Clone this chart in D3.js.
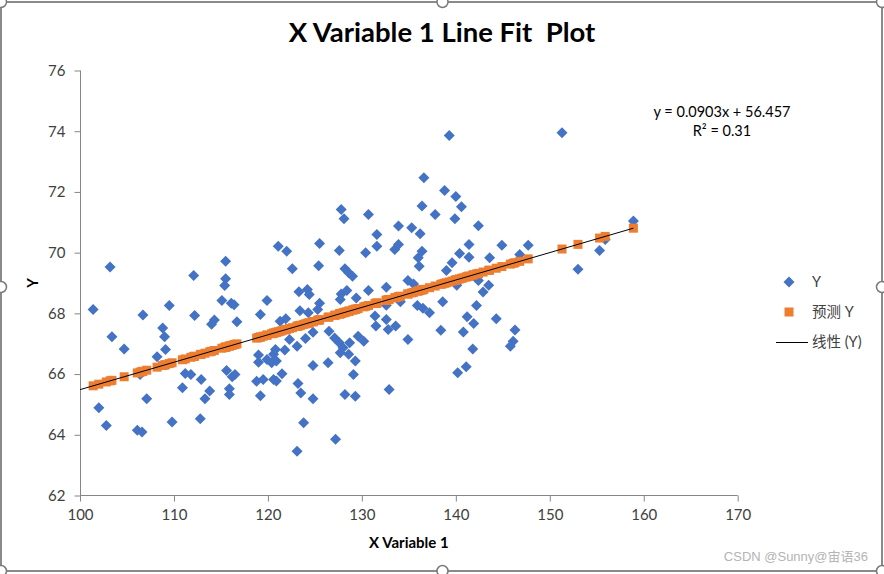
<!DOCTYPE html>
<html>
<head>
<meta charset="utf-8">
<script src="https://cdn.jsdelivr.net/npm/d3@7"></script>
<style>
html,body{margin:0;padding:0;background:#fff;}
svg{display:block;}
</style>
</head>
<body>
<svg id="chart" width="884" height="574"></svg>
<script>
// ---- data ----
const xValues = [
103.2,115.5,112.1,115.5,115.4,101.4,106.7,109.5,115.1,116.1,116.4,112.2,114.3,114.0,116.7,119.2,108.8,109.0,103.4,104.7,
109.1,108.2,106.4,111.2,111.8,110.9,112.9,113.8,113.3,115.6,116.2,116.5,115.9,115.9,119.0,119.0,118.8,119.2,107.1,102.0,
102.8,106.1,106.6,109.8,112.8,
127.8,128.1,130.7,133.9,121.1,122.0,125.5,127.6,131.6,131.6,130.4,133.5,122.6,125.4,128.2,128.6,129.0,123.3,124.2,124.4,
119.9,123.4,124.3,125.5,125.3,127.8,128.4,127.7,129.4,130.7,132.6,121.3,121.9,124.8,122.3,123.1,124.0,121.8,126.5,127.1,
127.6,128.0,127.7,128.6,129.3,128.7,129.6,130.2,131.4,131.5,132.6,132.8,133.6,119.9,120.6,120.8,120.4,120.9,119.5,120.6,
121.5,120.9,123.2,123.5,124.8,126.4,124.8,129.1,128.2,129.3,132.9,123.8,127.2,123.1,
139.3,136.6,138.8,140.0,140.6,136.4,137.8,139.9,142.4,135.3,136.2,133.9,136.4,136.0,136.1,141.4,140.4,141.4,144.9,143.6,
147.7,139.6,139.0,134.9,135.5,142.4,140.1,143.5,142.9,134.1,132.6,138.6,135.9,136.5,137.2,142.2,134.9,138.4,141.2,141.9,
140.8,144.3,146.3,146.1,145.8,141.8,141.1,140.2,
151.3,158.9,155.9,155.3,153.0,146.8
];
const yValues = [
69.53,69.72,69.25,69.14,68.92,68.13,67.95,68.26,68.42,68.33,68.28,67.93,67.78,67.64,67.72,67.96,67.52,67.23,67.23,66.83,
66.81,66.57,65.99,66.02,65.99,65.55,65.82,65.44,65.19,66.12,65.91,65.99,65.52,65.33,66.63,66.39,65.76,65.29,65.19,64.89,
64.31,64.15,64.09,64.42,64.53,
71.42,71.12,71.26,70.88,70.21,70.05,70.30,70.07,70.60,70.21,70.00,70.10,69.47,69.57,69.47,69.34,69.22,68.71,68.79,68.62,
68.42,68.09,68.02,68.33,68.13,68.64,68.75,68.46,68.51,68.75,68.86,67.74,67.82,67.38,67.14,66.92,67.17,66.79,67.41,67.19,
67.03,66.87,66.70,66.65,66.43,67.03,67.25,67.08,67.91,67.58,67.80,67.47,67.58,66.48,66.65,66.81,66.37,66.43,65.82,65.82,
66.01,65.77,65.69,65.38,66.28,66.37,65.19,65.99,65.33,65.27,65.49,64.40,63.85,63.46,
73.86,72.47,72.05,71.85,71.51,71.54,71.26,71.12,70.89,70.82,70.62,70.27,70.05,69.83,69.55,70.27,69.97,69.85,70.24,69.83,
70.24,69.67,69.41,69.08,68.97,69.08,68.93,68.93,68.70,68.38,68.27,68.38,68.26,68.17,68.02,68.26,67.14,67.44,67.89,67.67,
67.39,67.82,67.45,67.08,66.92,66.83,66.24,66.04,
73.95,71.04,70.43,70.07,69.45,69.94
];
// regression shown on the chart
const slope = 0.0903;
const intercept = 56.457;
const predictedY = xValues.map(x => slope * x + intercept);

const xTicks = [100,110,120,130,140,150,160,170];
const yTicks = [62,64,66,68,70,72,74,76];
const trendRange = [100, 158.9];

const titleText = "X Variable 1 Line Fit  Plot";
const xTitle = "X Variable 1";
const yTitle = "Y";
const legendItems = ["Y", "预测 Y", "线性 (Y)"];
const eqLines = ["y = 0.0903x + 56.457", "R² = 0.31"];

// ---- drawing ----
const svg = d3.select("#chart");
const FONT = "Lato, 'Open Sans', 'Liberation Sans', sans-serif";
const CJK = "Lato, 'Noto Sans CJK SC', sans-serif";
const blue = "#4472C4", orange = "#ED7D31", axisCol = "#868686", textCol = "#404040";

const x = d3.scaleLinear().domain([100,170]).range([80, 737.7]);
const y = d3.scaleLinear().domain([62,76]).range([495.5, 70.5]);

svg.append("rect").attr("x",0).attr("y",0).attr("width",884).attr("height",574).attr("fill","#fff");

// title
svg.append("text").attr("x",442).attr("y",42).attr("text-anchor","middle")
  .style("white-space","pre")
  .attr("font-family",FONT).attr("font-weight","bold").attr("font-size",27.5)
  .attr("fill","#000").text(titleText);

// axes
const xAxis = d3.axisBottom(x).tickValues(xTicks).tickSize(6).tickPadding(8).tickFormat(d3.format("d"));
const yAxis = d3.axisLeft(y).tickValues(yTicks).tickSize(6).tickPadding(9).tickFormat(d3.format("d"));
const gx = svg.append("g").attr("transform","translate(0,495.5)").call(xAxis);
const gy = svg.append("g").attr("transform","translate(80.5,0)").call(yAxis);
[gx, gy].forEach(g => {
  g.select(".domain").attr("stroke",axisCol).attr("stroke-width",1);
  g.selectAll(".tick line").attr("stroke",axisCol);
  g.selectAll(".tick text").attr("font-family",FONT).attr("font-size",15).attr("fill",textCol);
});
gy.select(".domain").attr("d","M0,70.5V495.5");
gx.select(".domain").attr("d","M80,0H737.7");

// axis titles
svg.append("text").attr("x",408.9).attr("y",548).attr("text-anchor","middle")
  .attr("font-family",FONT).attr("font-weight","bold").attr("font-size",15).attr("fill","#000").text(xTitle);
svg.append("text").attr("transform","translate(38,283) rotate(-90)").attr("text-anchor","middle")
  .attr("font-family",FONT).attr("font-weight","bold").attr("font-size",15).attr("fill","#000").text(yTitle);

// diamond path (rotated square)
const dHalf = 5.5;
const diamond = `M0,${-dHalf}L${dHalf},0L0,${dHalf}L${-dHalf},0Z`;
const sq = 9;

// Y series
svg.append("g").selectAll("path").data(xValues.map((v,i)=>[v,yValues[i]])).join("path")
  .attr("d",diamond).attr("fill",blue)
  .attr("transform",d=>`translate(${x(d[0])},${y(d[1])})`);

// Predicted Y series
svg.append("g").selectAll("rect").data(xValues.map((v,i)=>[v,predictedY[i]])).join("rect")
  .attr("x",d=>x(d[0])-sq/2).attr("y",d=>y(d[1])-sq/2).attr("width",sq).attr("height",sq)
  .attr("fill",orange);

// trendline
svg.append("line")
  .attr("x1",x(trendRange[0])).attr("y1",y(slope*trendRange[0]+intercept))
  .attr("x2",x(trendRange[1])).attr("y2",y(slope*trendRange[1]+intercept))
  .attr("stroke","#000").attr("stroke-width",1);

// equation
eqLines.forEach((t,i)=>{
  svg.append("text").attr("x",722).attr("y",117+i*19).attr("text-anchor","middle")
    .attr("font-family",FONT).attr("font-size",14.5).attr("fill","#000").text(t);
});

// legend
const lg = svg.append("g");
lg.append("path").attr("d",diamond).attr("fill",blue).attr("transform","translate(789,282)");
lg.append("rect").attr("x",789-sq/2).attr("y",312-sq/2).attr("width",sq).attr("height",sq).attr("fill",orange);
lg.append("line").attr("x1",776).attr("x2",808).attr("y1",342.5).attr("y2",342.5).attr("stroke","#000").attr("stroke-width",1);
legendItems.forEach((t,i)=>{
  lg.append("text").attr("x",812).attr("y",287+i*30)
    .attr("font-family",CJK).attr("font-size",14.5).attr("fill",textCol).text(t);
});

// watermark
svg.append("text").attr("x",868).attr("y",561).attr("text-anchor","end")
  .attr("font-family","'Liberation Sans', 'Noto Sans CJK SC', sans-serif").attr("font-size",13)
  .attr("fill","#b4b4b4").text("CSDN @Sunny@宙语36");

// selection frame
svg.append("rect").attr("x",1).attr("y",2).attr("width",881).attr("height",569)
  .attr("fill","none").attr("stroke","#8a8a8a").attr("stroke-width",2);
const handles = [[1,2],[442.5,2],[882,2],[1,287],[882,287],[1,571],[442.5,571],[882,571]];
svg.append("g").selectAll("circle").data(handles).join("circle")
  .attr("cx",d=>d[0]).attr("cy",d=>d[1]).attr("r",5.5)
  .attr("fill","#fff").attr("stroke","#7a7a7a").attr("stroke-width",1.5);
</script>
</body>
</html>
